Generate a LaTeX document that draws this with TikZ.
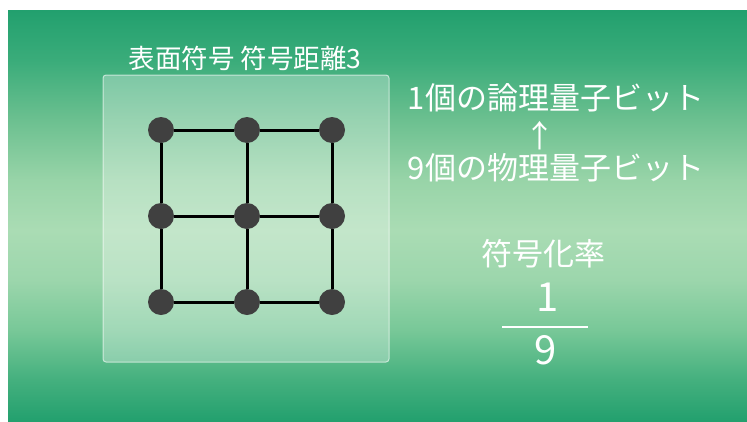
\documentclass[tikz,border=0pt]{standalone}
\usepackage{fontspec}
\setmainfont{Noto Sans CJK JP}
\pgfdeclarelayer{bg}
\pgfdeclarelayer{edges}
\pgfsetlayers{bg,edges,main}
\definecolor{g0}{HTML}{22A06E}
\definecolor{g1}{HTML}{3AAC7A}
\definecolor{g2}{HTML}{6CC090}
\definecolor{g3}{HTML}{98D4A8}
\definecolor{g4}{HTML}{AADCB4}
\definecolor{g5}{HTML}{9CD6AC}
\definecolor{g6}{HTML}{78C898}
\definecolor{g7}{HTML}{44B07E}
\definecolor{g8}{HTML}{23A06E}
\definecolor{dotc}{HTML}{404040}
\pgfdeclareverticalshading{bgshade}{100bp}{color(0bp)=(g8); color(25bp)=(g8); color(30bp)=(g7);
  color(36.1bp)=(g6); color(42.2bp)=(g5); color(48.2bp)=(g4); color(54.3bp)=(g3);
  color(61.6bp)=(g2); color(68.9bp)=(g1); color(75bp)=(g0); color(100bp)=(g0)}
\begin{document}
\begin{tikzpicture}[x=1pt,y=-1pt,
  qubit/.style={circle,fill=dotc,minimum size=26pt,inner sep=0pt},
  link/.style={line width=3pt,black},
  lbl/.style={text=white,inner sep=0pt,font=\fontsize{31}{36}\selectfont},
  ttl/.style={lbl,font=\fontsize{26.5}{30}\selectfont},
  frac/.style={lbl,font=\fontsize{40}{44}\selectfont}]
\useasboundingbox (0,0) rectangle (747,421);
\begin{pgfonlayer}{bg}
  \shade[shading=bgshade] (8,10) rectangle (747,421);
  \node (panel) at (246,218.5) [minimum width=286pt, minimum height=287pt, rounded corners=3pt,
     fill=white, fill opacity=0.3, draw=white, draw opacity=0.6, line width=1pt] {};
\end{pgfonlayer}
% qubits
\node[qubit] (a1) at (161,130) {};
\node[qubit] (a2) at (247,130) {};
\node[qubit] (a3) at (332,130) {};
\node[qubit] (b1) at (161,216) {};
\node[qubit] (b2) at (247,216) {};
\node[qubit] (b3) at (332,216) {};
\node[qubit] (c1) at (161,302) {};
\node[qubit] (c2) at (247,302) {};
\node[qubit] (c3) at (332,302) {};
\begin{pgfonlayer}{edges}
  \draw[link] (a1) -- (a2); \draw[link] (a2) -- (a3);
  \draw[link] (b1) -- (b2); \draw[link] (b2) -- (b3);
  \draw[link] (c1) -- (c2); \draw[link] (c2) -- (c3);
  \draw[link] (a1) -- (b1); \draw[link] (b1) -- (c1);
  \draw[link] (a2) -- (b2); \draw[link] (b2) -- (c2);
  \draw[link] (a3) -- (b3); \draw[link] (b3) -- (c3);
\end{pgfonlayer}
% texts
\node[ttl] (title) at (245,58.5) {表面符号 符号距離3};
\node[lbl] (logical) at (556,98) {1個の論理量子ビット};
\node[lbl] (arrow) at (540,136) {↑};
\node[lbl] (physical) at (556,168) {9個の物理量子ビット};
\node[lbl] (rate) at (543,254) {符号化率};
\node[frac] (num) at (548,297) {1};
\node[frac] (den) at (546,350) {9};
\coordinate (barL) at (502,327);
\coordinate (barR) at (588,327);
\draw[white, line width=2pt] (barL) -- (barR);
\end{tikzpicture}
\end{document}
